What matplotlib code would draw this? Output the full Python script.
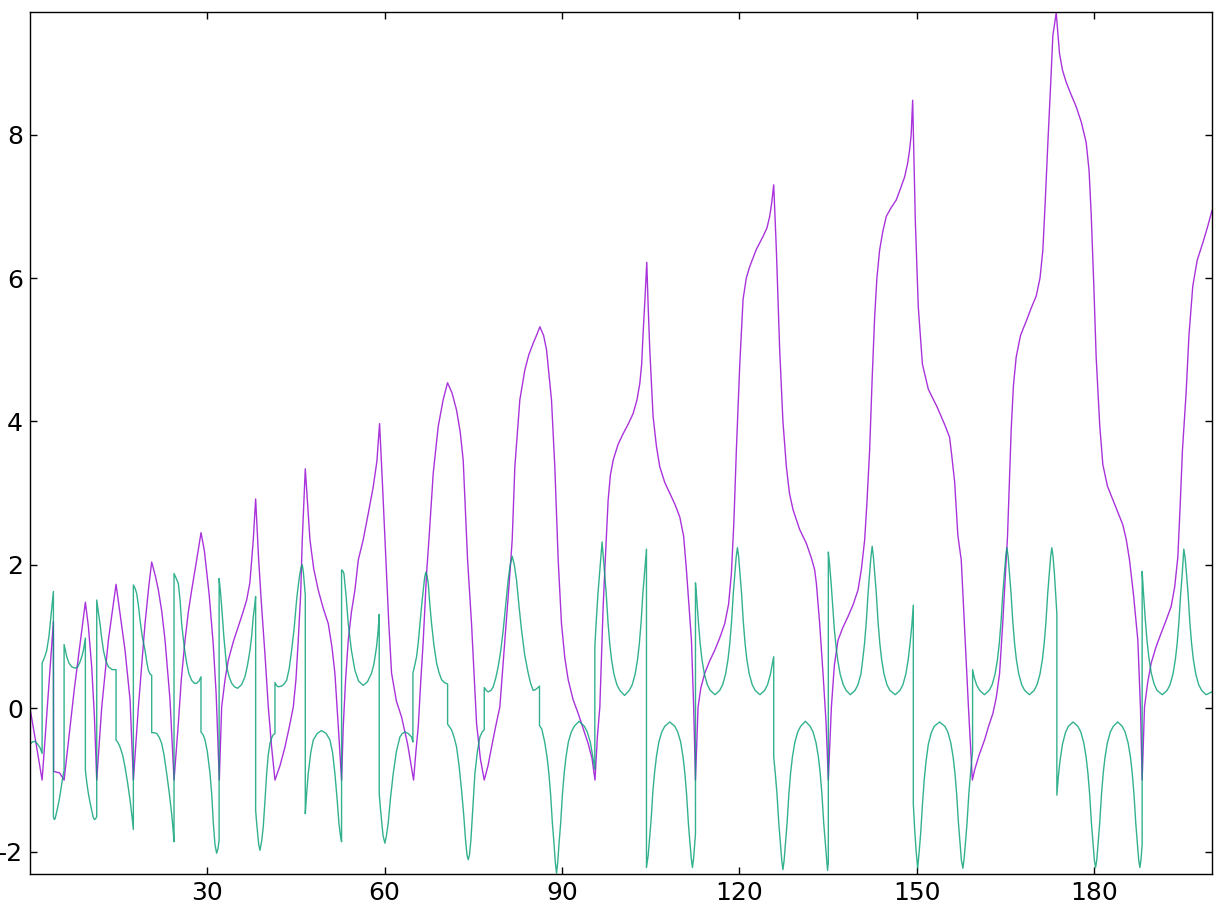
import matplotlib
matplotlib.use("Agg")
import matplotlib.pyplot as plt

plt.rcParams['axes.unicode_minus'] = False
plt.rcParams['font.family'] = ['DejaVu Sans']

# purple series (x, y)
purple_x = [0.0, 1.0, 2.05, 3.0, 3.96, 4.0, 5.0, 5.77,
            7.5, 9.37, 9.88, 10.44, 10.9, 11.29,
            12.14, 13.26, 14.0, 14.56, 15.24, 16.08, 16.93, 17.49,
            18.34, 19.46, 20.1, 20.59, 21.2, 21.72, 22.3, 22.85, 23.69, 24.37,
            25.1, 25.6, 26.23, 26.8, 27.36, 28.2, 28.94, 29.5, 30.3, 31.0, 31.5, 32.03,
            32.43, 33.0, 33.55, 34.4, 35.25, 36.0, 36.66, 37.2, 37.5, 37.78, 38.18,
            38.69, 39.19, 39.8, 40.32, 40.88, 41.45,
            42.3, 43.14, 43.9, 44.55, 45.0, 45.39, 45.8, 46.07, 46.58,
            47.37, 48.0, 48.77, 49.6, 50.47, 51.1, 51.59, 52.2, 52.72,
            53.0, 53.4, 53.85, 54.4, 54.98, 55.55, 56.38, 57.24, 58.08, 58.7, 59.15,
            59.66, 60.22, 60.7, 61.18, 62.0, 62.87, 63.9, 64.9,
            65.3, 65.69, 66.1, 66.54, 67.1, 67.5, 68.23, 69.07, 69.9, 70.65,
            71.4, 72.17, 72.8, 73.3, 74.04, 74.71, 75.56, 76.2, 76.86,
            77.5, 78.1, 78.8, 79.5, 80.35, 81.2, 81.59, 82.04, 82.88, 83.73, 84.4, 85.14, 85.8, 86.27,
            86.9, 87.4, 88.24, 88.8, 89.37, 89.93, 90.5, 91.06, 91.9, 92.75, 93.6, 94.44, 95.1, 95.6,
            96.0, 96.42, 96.98, 97.26, 97.82, 98.2, 98.67, 99.5, 100.36, 101.2, 102.05, 102.7, 103.18,
            103.5, 103.74, 104.05, 104.36,
            104.6, 104.87, 105.43, 106.0, 106.56, 107.4, 108.25, 109.1, 109.94, 110.6, 111.07, 111.92,
            112.3, 112.6,
            113.04, 113.5, 114.17, 115.0, 115.86, 116.7, 117.55, 118.2, 118.68, 119.1, 119.52, 120.1,
            120.65, 121.2, 121.78, 122.9, 124.03, 124.7, 125.16, 125.5, 125.84,
            126.29, 126.85, 127.4, 127.98, 128.5, 129.11, 130.2, 131.36, 132.2, 132.77, 133.06, 133.6,
            134.18, 134.7, 135.08,
            135.6, 136.1, 136.72, 137.5, 138.41, 139.3, 140.1, 140.66, 141.23, 141.6, 142.07, 142.5,
            142.92, 143.3, 143.76, 144.3, 144.89, 145.7, 146.58, 147.3, 147.99, 148.5, 148.84, 149.1, 149.35,
            149.8, 150.3, 151.0, 152.0, 153.5, 154.8, 155.6, 156.0, 156.45, 157.0, 157.57, 158.2, 158.8, 159.45,
            159.83, 160.6, 161.52, 162.2, 162.93, 163.5, 164.06, 164.6, 165.0, 165.4, 166.03, 166.4, 166.87,
            167.6, 168.57, 169.4, 170.26, 170.9, 171.38, 171.8, 172.23, 172.7, 173.07, 173.64,
            174.2, 174.7, 175.33, 176.2, 177.02, 177.9, 178.71, 179.2, 179.56, 180.0, 180.4, 181.0,
            181.53, 182.3, 183.22, 184.1, 184.91, 185.5, 186.04, 186.7, 187.45, 187.9, 188.18,
            188.58, 189.1, 189.71, 190.5, 191.4, 192.2, 193.09, 193.7, 194.22, 194.6, 195.0, 195.62,
            196.1, 196.75, 197.5, 198.44, 199.2, 200.0]
purple_y = [0.0, -0.48, -1.0, 0.1, 1.21, -0.88, -0.9, -1.0,
            0.27, 1.48, 1.14, 0.58, -0.12, -1.0,
            0.02, 0.95, 1.4, 1.73, 1.32, 0.81, 0.12, -1.0,
            0.02, 1.18, 1.7, 2.04, 1.85, 1.65, 1.35, 0.95, 0.12, -1.0,
            -0.21, 0.4, 0.95, 1.35, 1.65, 2.07, 2.45, 2.2, 1.6, 0.9, 0.2, -1.0,
            0.02, 0.4, 0.67, 0.93, 1.14, 1.33, 1.51, 1.75, 2.07, 2.35, 2.92,
            2.07, 1.42, 0.7, 0.02, -0.54, -1.0,
            -0.8, -0.54, -0.25, 0.02, 0.4, 0.95, 1.6, 2.35, 3.34,
            2.35, 1.95, 1.65, 1.4, 1.18, 0.85, 0.49, -0.3, -1.0,
            -0.26, 0.4, 0.95, 1.35, 1.65, 2.07, 2.35, 2.72, 3.09, 3.45, 3.97,
            3.09, 2.07, 1.2, 0.49, 0.1, -0.12, -0.5, -1.0,
            -0.6, -0.26, 0.35, 0.95, 1.88, 2.35, 3.28, 3.93, 4.3, 4.54,
            4.4, 4.16, 3.85, 3.46, 2.07, 1.18, -0.21, -0.7, -1.0,
            -0.8, -0.54, -0.25, 0.02, 0.95, 1.88, 2.35, 3.37, 4.3, 4.72, 4.93, 5.09, 5.22, 5.32,
            5.2, 5.0, 4.3, 3.37, 2.07, 1.18, 0.7, 0.4, 0.12, -0.07, -0.28, -0.49, -0.7, -1.0,
            -0.4, 0.02, 1.42, 1.93, 2.9, 3.25, 3.46, 3.68, 3.83, 3.96, 4.11, 4.3, 4.53,
            4.8, 5.23, 5.7, 6.22,
            5.6, 5.0, 4.07, 3.65, 3.37, 3.15, 3.0, 2.85, 2.67, 2.4, 1.93, 0.95,
            0.0, -1.0,
            0.02, 0.28, 0.49, 0.66, 0.81, 0.98, 1.18, 1.45, 1.88, 2.6, 3.6, 4.8,
            5.7, 6.0, 6.16, 6.4, 6.58, 6.7, 6.86, 7.05, 7.3,
            6.39, 5.0, 4.0, 3.37, 3.0, 2.77, 2.5, 2.3, 2.1, 1.93, 1.74, 1.2,
            0.49, -0.2, -1.0,
            0.02, 0.6, 0.95, 1.12, 1.28, 1.45, 1.65, 1.93, 2.35, 2.85, 3.6, 4.6,
            5.46, 6.0, 6.39, 6.65, 6.86, 6.98, 7.09, 7.25, 7.41, 7.6, 7.79, 8.0, 8.48,
            6.8, 5.6, 4.8, 4.45, 4.2, 3.95, 3.78, 3.5, 3.16, 2.41, 2.07, 1.0, 0.0, -1.0,
            -0.86, -0.65, -0.44, -0.25, -0.07, 0.15, 0.49, 1.2, 1.8, 2.4, 3.9, 4.5, 4.9,
            5.2, 5.4, 5.58, 5.75, 6.0, 6.39, 7.1, 7.89, 8.7, 9.38, 9.7,
            9.13, 8.9, 8.73, 8.55, 8.39, 8.17, 7.89, 7.5, 6.89, 5.9, 4.9, 3.95,
            3.4, 3.1, 2.91, 2.73, 2.56, 2.35, 2.07, 1.6, 0.95, 0.0, -1.0,
            0.02, 0.35, 0.63, 0.85, 1.05, 1.22, 1.42, 1.7, 2.11, 2.8, 3.6, 4.4,
            5.2, 5.89, 6.25, 6.49, 6.7, 6.94]

# green series (x, y) (repeated x = vertical jump)
green_x = [0.0, 0.4, 0.86, 1.3, 1.71, 2.05,
           2.05, 2.5, 2.84, 3.2, 3.5, 3.75, 3.96,
           3.96, 4.1, 4.24, 4.5, 4.81, 5.1, 5.37, 5.77,
           5.77, 6.0, 6.22, 6.6, 7.06, 7.63, 8.1, 8.47, 8.8, 9.04, 9.37,
           9.37, 9.6, 9.88, 10.2, 10.44, 10.7, 10.9, 11.1, 11.29,
           11.29, 11.55, 11.85, 12.1, 12.42, 12.8, 13.26, 13.9, 14.56,
           14.56, 14.9, 15.24, 15.7, 16.08, 16.5, 16.93, 17.25, 17.49,
           17.49, 17.75, 18.06, 18.35, 18.62, 19.0, 19.46, 19.75, 20.03, 20.3, 20.59,
           20.59, 21.0, 21.44, 21.9, 22.28, 22.7, 23.13, 23.55, 23.97, 24.2, 24.37,
           24.37, 24.7, 25.1, 25.4, 25.66, 26.1, 26.51, 26.9, 27.36, 27.8, 28.2, 28.6, 28.93,
           28.93, 29.3, 29.61, 30.0, 30.46, 30.75, 31.02, 31.3, 31.58, 31.8, 32.0,
           32.0, 32.2, 32.43, 32.8, 33.27, 33.7, 34.12, 34.6, 35.13, 35.8, 36.37, 36.8, 37.22, 37.5,
           37.78, 38.0, 38.18,
           38.18, 38.35, 38.52, 38.7, 38.91, 39.2, 39.47, 39.75, 40.04, 40.3, 40.6, 40.9, 41.16, 41.45,
           41.45, 41.7, 42.01, 42.57, 43.0, 43.42, 43.85, 44.27, 44.7, 45.11, 45.4, 45.67, 45.9, 46.07,
           46.25, 46.41, 46.58,
           46.58, 46.8, 47.08, 47.5, 47.93, 48.6, 49.34, 50.1, 50.75, 51.2, 51.59, 51.95, 52.27, 52.5, 52.72,
           52.72, 52.9, 53.12, 53.5, 53.85, 54.4, 54.98, 55.6, 56.38, 57.1, 57.79, 58.2, 58.64, 58.9, 59.09,
           59.09, 59.3, 59.48, 59.75, 60.05, 60.3, 60.61, 61.0, 61.46, 62.0, 62.59, 63.0, 63.43, 64.0,
           64.56, 64.79,
           64.79, 65.1, 65.41, 65.7, 65.98, 66.25, 66.54, 66.8, 66.99, 67.2, 67.39, 67.65, 67.95, 68.35,
           68.8, 69.2, 69.64, 70.1, 70.66,
           70.66, 71.0, 71.33, 71.75, 72.18, 72.6, 73.02, 73.4, 73.7, 73.95, 74.15, 74.35, 74.6, 74.95,
           75.28, 75.7, 76.12, 76.5, 76.86,
           76.86, 77.2, 77.53, 78.0, 78.38, 78.8, 79.22, 79.65, 80.07, 80.5, 80.91, 81.25, 81.59, 81.95,
           82.32, 82.75, 83.17, 83.7, 84.3, 84.7, 85.14, 85.5, 85.82, 86.21,
           86.21, 86.6, 87.09, 87.49, 87.79, 88.09, 88.39, 88.64, 88.89, 89.09, 89.29, 89.54, 89.79,
           90.09, 90.39, 90.69, 91.09, 91.59, 92.09, 92.9, 93.8, 94.3, 94.8, 95.2, 95.57,
           95.57, 95.8, 96.1, 96.35, 96.6, 96.8, 97.0, 97.25, 97.5, 97.8, 98.1, 98.4, 98.8, 99.3, 99.8,
           100.6, 101.4, 101.9, 102.4, 102.8, 103.1, 103.4, 103.7, 103.95, 104.2, 104.31,
           104.31, 104.6, 104.85, 105.1, 105.4, 105.7, 106.0, 106.4, 106.9, 107.4, 108.25, 109.1, 109.6,
           110.1, 110.5, 110.8, 111.1, 111.4, 111.65, 111.9, 112.09, 112.3, 112.6,
           112.6, 112.8, 113.1, 113.4, 113.7, 114.1, 114.6, 115.1, 115.9, 116.7, 117.2, 117.7, 118.1,
           118.4, 118.7, 119.0, 119.25, 119.5, 119.7, 119.9, 120.15, 120.4, 120.7, 121.0, 121.3, 121.7,
           122.2, 122.7, 123.5, 124.3, 124.8, 125.3, 125.6, 125.84,
           125.84, 126.1, 126.4, 126.7, 126.95, 127.2, 127.4, 127.6, 127.85, 128.1, 128.4, 128.7, 129.0,
           129.4, 129.9, 130.4, 131.2, 132.0, 132.5, 133.0, 133.4, 133.7, 134.0, 134.3, 134.55, 134.8,
           134.95, 135.08,
           135.08, 135.3, 135.55, 135.8, 136.1, 136.4, 136.7, 137.1, 137.6, 138.1, 138.8, 139.6, 140.1,
           140.6, 140.9, 141.2, 141.5, 141.8, 142.05, 142.3, 142.5, 142.7, 142.95, 143.2, 143.5, 143.8,
           144.1, 144.5, 145.0, 145.5, 146.4, 147.2, 147.7, 148.2, 148.6, 148.9, 149.2, 149.46,
           149.46, 149.7, 149.95, 150.2, 150.45, 150.7, 151.0, 151.3, 151.6, 152.0, 152.5, 153.0, 153.9,
           154.8, 155.3, 155.8, 156.2, 156.5, 156.8, 157.1, 157.35, 157.6, 157.85, 158.05, 158.3, 158.55,
           158.85, 159.2, 159.49,
           159.49, 159.8, 160.2, 160.7, 161.5, 162.3, 162.8, 163.3, 163.7, 164.0, 164.3, 164.6, 164.85,
           165.1, 165.3, 165.5, 165.75, 166.0, 166.3, 166.6, 166.9, 167.3, 167.8, 168.3, 169.1, 169.9,
           170.4, 170.9, 171.3, 171.6, 171.9, 172.2, 172.45, 172.7, 172.9, 173.1, 173.35, 173.55, 173.75,
           173.75, 174.0, 174.3, 174.7, 175.2, 175.7, 176.5, 177.3, 177.8, 178.3, 178.7, 179.0, 179.3,
           179.6, 179.85, 180.1, 180.3, 180.5, 180.75, 181.0, 181.3, 181.6, 181.9, 182.3, 182.8, 183.3,
           184.05, 184.8, 185.3, 185.8, 186.2, 186.5, 186.8, 187.1, 187.35, 187.6, 187.8, 188.0, 188.18,
           188.18, 188.4, 188.7, 189.0, 189.3, 189.7, 190.2, 190.7, 191.6, 192.4, 192.9, 193.4, 193.8,
           194.1, 194.4, 194.7, 194.95, 195.23, 195.45, 195.7, 195.95, 196.25, 196.55, 196.85, 197.25,
           197.75, 198.25, 199.0, 200.0]
green_y = [-0.5, -0.47, -0.46, -0.5, -0.55, -0.63,
           0.63, 0.72, 0.81, 1.0, 1.25, 1.45, 1.63,
           -1.51, -1.55, -1.54, -1.45, -1.33, -1.2, -1.05, -0.86,
           0.89, 0.8, 0.72, 0.63, 0.58, 0.56, 0.58, 0.65, 0.73, 0.81, 0.98,
           -0.86, -1.03, -1.19, -1.33, -1.42, -1.52, -1.55, -1.54, -1.51,
           1.51, 1.35, 1.18, 1.0, 0.81, 0.67, 0.58, 0.54, 0.54,
           -0.44, -0.48, -0.54, -0.66, -0.82, -1.03, -1.28, -1.5, -1.69,
           1.72, 1.68, 1.6, 1.43, 1.23, 1.0, 0.81, 0.65, 0.53, 0.48, 0.46,
           -0.34, -0.34, -0.35, -0.41, -0.49, -0.66, -0.91, -1.17, -1.47, -1.68, -1.86,
           1.88, 1.82, 1.74, 1.5, 1.18, 0.85, 0.63, 0.48, 0.39, 0.35, 0.35, 0.38, 0.44,
           -0.33, -0.37, -0.44, -0.6, -0.91, -1.2, -1.6, -1.9, -2.02, -1.96, -1.84,
           1.81, 1.65, 1.42, 1.0, 0.58, 0.44, 0.35, 0.3, 0.28, 0.33, 0.44, 0.6, 0.81, 1.0,
           1.28, 1.42, 1.56,
           -1.42, -1.6, -1.74, -1.9, -1.98, -1.85, -1.65, -1.3, -0.91, -0.66, -0.49, -0.41, -0.37, -0.35,
           0.36, 0.32, 0.3, 0.31, 0.34, 0.39, 0.55, 0.81, 1.12, 1.51, 1.72, 1.88, 1.97, 2.0,
           1.9, 1.74, 1.58,
           -1.47, -1.2, -0.91, -0.62, -0.44, -0.35, -0.31, -0.35, -0.44, -0.62, -0.91, -1.25, -1.6, -1.76, -1.86,
           1.93, 1.92, 1.88, 1.55, 1.18, 0.8, 0.53, 0.38, 0.32, 0.37, 0.49, 0.62, 0.86, 1.08, 1.31,
           -1.19, -1.4, -1.56, -1.78, -1.88, -1.78, -1.6, -1.25, -0.91, -0.6, -0.4, -0.35, -0.33, -0.35,
           -0.4, -0.47,
           0.49, 0.6, 0.72, 0.92, 1.18, 1.42, 1.65, 1.84, 1.9, 1.84, 1.74, 1.45, 1.18, 0.88,
           0.63, 0.5, 0.4, 0.36, 0.34,
           -0.22, -0.26, -0.3, -0.4, -0.54, -0.8, -1.14, -1.5, -1.84, -2.05, -2.11, -2.05, -1.84, -1.35,
           -0.91, -0.6, -0.4, -0.33, -0.3,
           0.29, 0.25, 0.23, 0.25, 0.3, 0.42, 0.58, 0.8, 1.09, 1.45, 1.79, 2.0, 2.12, 2.0,
           1.79, 1.42, 1.09, 0.75, 0.49, 0.35, 0.25, 0.26, 0.28, 0.31,
           -0.24, -0.29, -0.47, -0.68, -0.9, -1.2, -1.6, -1.86, -2.15, -2.3, -2.15, -1.86, -1.6,
           -1.2, -0.9, -0.68, -0.47, -0.33, -0.25, -0.18, -0.25, -0.33, -0.47, -0.66, -0.85,
           0.85, 1.2, 1.6, 1.86, 2.12, 2.32, 2.12, 1.86, 1.6, 1.2, 0.9, 0.68, 0.48, 0.33, 0.25,
           0.18, 0.25, 0.33, 0.48, 0.68, 0.9, 1.2, 1.6, 1.86, 2.12, 2.22,
           -2.22, -2.05, -1.8, -1.55, -1.15, -0.88, -0.67, -0.47, -0.33, -0.25, -0.19, -0.25, -0.33,
           -0.47, -0.68, -0.9, -1.2, -1.6, -1.86, -2.1, -2.22, -2.08, -1.75,
           1.75, 1.55, 1.2, 0.9, 0.68, 0.48, 0.33, 0.25, 0.19, 0.25, 0.33, 0.48, 0.68,
           0.9, 1.2, 1.6, 1.86, 2.12, 2.24, 2.12, 1.86, 1.6, 1.2, 0.9, 0.68, 0.48,
           0.33, 0.25, 0.19, 0.25, 0.33, 0.48, 0.62, 0.72,
           -0.68, -0.9, -1.2, -1.6, -1.86, -2.12, -2.25, -2.12, -1.86, -1.6, -1.2, -0.9, -0.68,
           -0.48, -0.33, -0.25, -0.18, -0.25, -0.33, -0.48, -0.68, -0.9, -1.2, -1.6, -1.86, -2.12,
           -2.26, -2.15,
           2.18, 2.0, 1.75, 1.45, 1.1, 0.85, 0.66, 0.47, 0.33, 0.25, 0.19, 0.25, 0.33,
           0.48, 0.68, 0.9, 1.2, 1.6, 1.86, 2.12, 2.26, 2.12, 1.86, 1.6, 1.2, 0.9,
           0.68, 0.48, 0.33, 0.25, 0.19, 0.25, 0.33, 0.48, 0.68, 0.9, 1.15, 1.44,
           -1.33, -1.7, -2.0, -2.23, -2.0, -1.75, -1.35, -1.0, -0.75, -0.5, -0.34, -0.25, -0.19,
           -0.25, -0.33, -0.48, -0.68, -0.9, -1.2, -1.6, -1.86, -2.12, -2.23, -2.1, -1.86, -1.6,
           -1.2, -0.85, -0.6,
           0.54, 0.42, 0.32, 0.25, 0.19, 0.25, 0.33, 0.48, 0.68, 0.9, 1.2, 1.6, 1.86,
           2.12, 2.24, 2.12, 1.86, 1.6, 1.2, 0.9, 0.68, 0.48, 0.33, 0.25, 0.19, 0.25,
           0.33, 0.48, 0.68, 0.9, 1.2, 1.6, 1.86, 2.12, 2.24, 2.12, 1.86, 1.6, 1.32,
           -1.21, -0.95, -0.72, -0.5, -0.34, -0.25, -0.19, -0.25, -0.33, -0.48, -0.68, -0.9, -1.2,
           -1.6, -1.86, -2.12, -2.22, -2.12, -1.86, -1.6, -1.2, -0.9, -0.68, -0.48, -0.33, -0.25,
           -0.19, -0.25, -0.33, -0.48, -0.68, -0.9, -1.2, -1.6, -1.86, -2.12, -2.22, -2.1, -1.9,
           1.91, 1.62, 1.25, 0.95, 0.72, 0.5, 0.34, 0.25, 0.19, 0.25, 0.33, 0.48, 0.68,
           0.9, 1.2, 1.6, 1.86, 2.22, 2.1, 1.86, 1.6, 1.2, 0.9, 0.68, 0.48,
           0.33, 0.25, 0.19, 0.23]

x_ticks = [30, 60, 90, 120, 150, 180]
y_ticks = [-2, 0, 2, 4, 6, 8]

fig = plt.figure(figsize=(12.2, 9.02), dpi=100)
ax = fig.add_axes([30 / 1220, 28 / 902, 1182 / 1220, 862 / 902])
ax.plot(purple_x, purple_y, color='#9400d3', lw=1.0, alpha=0.8)
ax.plot(green_x, green_y, color='#009e73', lw=1.0, alpha=0.8)
ax.set_xlim(0, 200)
ax.set_ylim(-2.31, 9.71)
ax.set_xticks(x_ticks)
ax.set_yticks(y_ticks)
ax.tick_params(direction='in', length=5, width=1, labelsize=18, pad=5,
               top=True, right=True)
for s in ax.spines.values():
    s.set_linewidth(1.0)
fig.savefig('out.png', dpi=100)
